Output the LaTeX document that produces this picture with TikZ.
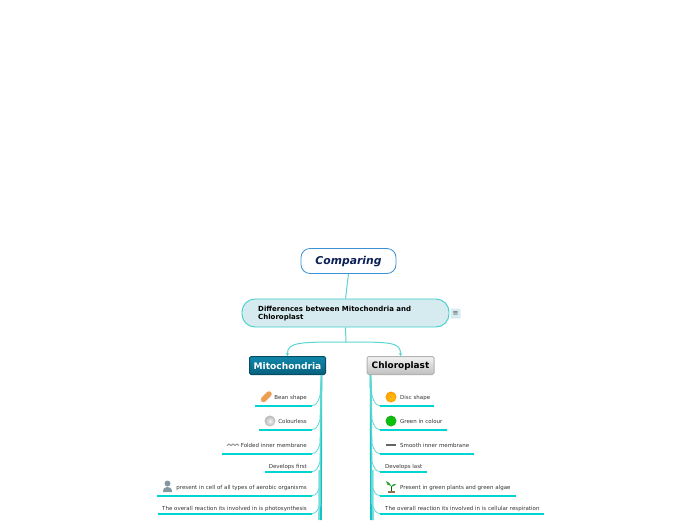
\documentclass[tikz,border=0pt]{standalone}
\usepackage{fontspec}
\setmainfont{DejaVu Sans}
\usetikzlibrary{calc,arrows.meta,shapes.geometric}
\definecolor{linkc}{HTML}{3CCFCB}
\definecolor{darkc}{HTML}{14C4C4}
\definecolor{rulec}{HTML}{00D4D0}
\definecolor{inkc}{HTML}{0A1F55}
\definecolor{mainc}{HTML}{D6EBF0}
\definecolor{topblue}{HTML}{3A90D0}
\definecolor{mitotop}{HTML}{1088AC}
\definecolor{mitobot}{HTML}{06607C}
\tikzset{
	link/.style={draw=linkc!85, line width=1pt},
	trunk/.style={draw=darkc, line width=1.6pt},
	leafline/.style={draw=rulec, line width=2pt},
	leaf/.style={font=\fontsize{5.5}{6}\selectfont, text=black!80, inner sep=0pt},
	branch/.style={minimum height=18pt, inner sep=0pt, rounded corners=1.5pt, line width=1pt, font=\fontsize{9}{10}\selectfont\bfseries},
}

\begin{document}
\begin{tikzpicture}[x=1pt, y=-1pt]
	\useasboundingbox (0, 0) rectangle (696, 520);
	\clip (0, 0) rectangle (696, 520);

	%%%%% central nodes %%%%%
	\node[fill=white, minimum width=95pt, minimum height=25pt, inner sep=0pt, rounded corners=9pt, draw=topblue, line width=0.8pt] (comparing) at (348.5, 261) {};
	\node[font=\fontsize{10.8}{11}\selectfont\bfseries\itshape, text=inkc, inner sep=0pt] (comparingtext) at (348.5, 262) {Comparing};

	\node[draw=linkc, fill=mainc, minimum width=207pt, minimum height=28pt, inner sep=0pt, rounded corners=13pt, line width=0.9pt] (main) at (345.5, 313) {};
	\node[anchor=west, align=left, font=\fontsize{7}{8.4}\selectfont\bfseries, inner sep=0pt] (maintext) at (258, 313.5) {Differences between Mitochondria and\\Chloroplast};

	\node[fill=mainc, rounded corners=1pt, minimum width=10pt, minimum height=10pt, inner sep=0pt, font=\fontsize{7}{7}\selectfont, text=black!70] (notes) at (455.5, 313.5) {≡};

	\node[branch, draw=mitobot!80!black, top color=mitotop, bottom color=mitobot, minimum width=76pt, text=white] (mito) at (287.5, 365.5) {};
	\node[font=\fontsize{9.1}{10}\selectfont\bfseries, text=white, inner sep=0pt] (mitotext) at (287.5, 366.5) {Mitochondria};
	\node[branch, draw=black!30, top color=black!5, bottom color=black!25, minimum width=67pt] (chloro) at (400.5, 365.5) {};
	\node[font=\fontsize{8.9}{10}\selectfont\bfseries, inner sep=0pt] (chlorotext) at (400.5, 366.5) {Chloroplast};

	\coordinate (fork) at (346, 342);
	\draw[link] (comparing.south) -- (main.north);
	\draw[link] (main.south) -- (fork);
	\draw[link, -{Stealth[length=3pt,width=3.5pt]}] (fork) .. controls (300, 342) and (287, 342) .. (mito.north);
	\draw[link, -{Stealth[length=3pt,width=3.5pt]}] (fork) .. controls (390, 342) and (401, 342) .. (chloro.north);

	%%%%% left side %%%%%
	\coordinate (mitotrunk) at (321.5, 375);
	\coordinate (mitoend) at (321, 520);
	\draw[trunk] (mitotrunk) -- (mitoend);

	\node[leaf, anchor=east] (beantext) at (307, 397.5) {Bean shape};
	\coordinate (beanstart) at (255, 405.5);
	\coordinate (beanend) at (312, 405.5);
	\node[leaf, anchor=east] (colourtext) at (307, 421.5) {Colourless};
	\coordinate (colourstart) at (259, 429.5);
	\coordinate (colourend) at (312, 429.5);
	\node[leaf, anchor=east] (foldtext) at (307, 445.5) {Folded inner membrane};
	\coordinate (foldstart) at (222, 453.5);
	\coordinate (foldend) at (312, 453.5);
	\node[leaf, anchor=east] (firsttext) at (307, 466.5) {Develops first};
	\coordinate (firststart) at (265, 471.5);
	\coordinate (firstend) at (312, 471.5);
	\node[leaf, anchor=east] (aerobtext) at (307, 487.5) {present in cell of all types of aerobic organisms};
	\coordinate (aerobstart) at (157, 495.5);
	\coordinate (aerobend) at (312, 495.5);
	\node[leaf, anchor=east] (phototext) at (307, 508.5) {The overall reaction its involved in is photosynthesis};
	\coordinate (photostart) at (158, 513.5);
	\coordinate (photoend) at (312, 513.5);

	\foreach \leafname in {bean, colour, fold, first, aerob, photo} {
		\draw[link, line width=0.8pt] (\leafname end) .. controls ($(\leafname end)+(4,0)$) and ($(\leafname end)+(6,-3)$) .. ($(\leafname end)+(8,-10)$) -- (mitotrunk);
	}
	\draw[leafline] (beanstart) -- (beanend);
	\draw[leafline] (colourstart) -- (colourend);
	\draw[leafline] (foldstart) -- (foldend);
	\draw[leafline] (firststart) -- (firstend);
	\draw[leafline] (aerobstart) -- (aerobend);
	\draw[leafline] (photostart) -- (photoend);
	\draw[linkc!70, line width=1.6pt] (319.3, 470) -- (319, 520);

	% icons
	\draw[orange!60!brown!75!white, line width=5.5pt, line cap=round] (263.5, 399.5) -- (269, 394);
	\shade[inner color=black!5, outer color=black!28] (270, 421) circle (5.5);
	\draw[black!40, line width=1.1pt, line join=round] (227, 445.5) -- (229, 444) -- (231, 445.5) -- (233, 444) -- (235, 445.5) -- (237, 444) -- (239, 445.5);
	\fill[black!70!cyan!60] (167.5, 483.5) circle (3);
	\fill[black!70!cyan!60] (163, 492) .. controls (163, 488) and (165, 487) .. (167.5, 487) .. controls (170, 487) and (172, 488) .. (172, 492) -- cycle;

	%%%%% right side %%%%%
	\coordinate (chlorotrunk) at (370.5, 375);
	\coordinate (chloroend) at (371, 520);
	\draw[trunk] (chlorotrunk) -- (chloroend);

	\node[leaf, anchor=west] (disctext) at (400, 397.5) {Disc shape};
	\coordinate (discstart) at (380, 405.5);
	\coordinate (discend) at (434, 405.5);
	\node[leaf, anchor=west] (greentext) at (400, 421.5) {Green in colour};
	\coordinate (greenstart) at (380, 429.5);
	\coordinate (greenend) at (447, 429.5);
	\node[leaf, anchor=west] (smoothtext) at (400, 445.5) {Smooth inner membrane};
	\coordinate (smoothstart) at (380, 453.5);
	\coordinate (smoothend) at (474, 453.5);
	\node[leaf, anchor=west] (lasttext) at (385, 466.5) {Develops last};
	\coordinate (laststart) at (380, 471.5);
	\coordinate (lastend) at (427, 471.5);
	\node[leaf, anchor=west] (planttext) at (400, 487.5) {Present in green plants and green algae};
	\coordinate (plantstart) at (380, 495.5);
	\coordinate (plantend) at (516, 495.5);
	\node[leaf, anchor=west] (resptext) at (385, 508.5) {The overall reaction its involved in is cellular respiration};
	\coordinate (respstart) at (380, 513.5);
	\coordinate (respend) at (544, 513.5);

	\foreach \leafname in {disc, green, smooth, last, plant, resp} {
		\draw[link, line width=0.8pt] (\leafname start) .. controls ($(\leafname start)+(-4,0)$) and ($(\leafname start)+(-6,-3)$) .. ($(\leafname start)+(-8,-10)$) -- (chlorotrunk);
	}
	\draw[leafline] (discstart) -- (discend);
	\draw[leafline] (greenstart) -- (greenend);
	\draw[leafline] (smoothstart) -- (smoothend);
	\draw[leafline] (laststart) -- (lastend);
	\draw[leafline] (plantstart) -- (plantend);
	\draw[leafline] (respstart) -- (respend);
	\draw[linkc!70, line width=1.6pt] (372.7, 470) -- (373, 520);

	% icons
	\shade[inner color=yellow!60!orange, outer color=orange!80!yellow] (391, 397) circle (5.5);
	\fill[black!25!orange!60] (391, 397) circle (1.2);
	\shade[inner color=green!80!black, outer color=green!65!black!90!white] (391, 421) circle (5.5);
	\draw[black!60, line width=1.5pt] (386, 445) -- (396, 445);
	\draw[green!40!black, line width=0.7pt] (391, 491) -- (391, 486);
	\fill[green!55!black!80!white] (391, 486) .. controls (390, 482) and (387, 482) .. (386, 481) .. controls (386, 484) and (388, 486) .. (391, 486);
	\fill[green!55!black!80!white] (391, 486.5) .. controls (392, 484) and (394, 484) .. (396, 484) .. controls (395, 486) and (393, 487) .. (391, 486.5);
	\fill[brown!60!black!80!white] (387.5, 492.5) rectangle (394.5, 490.5);
\end{tikzpicture}
\end{document}
